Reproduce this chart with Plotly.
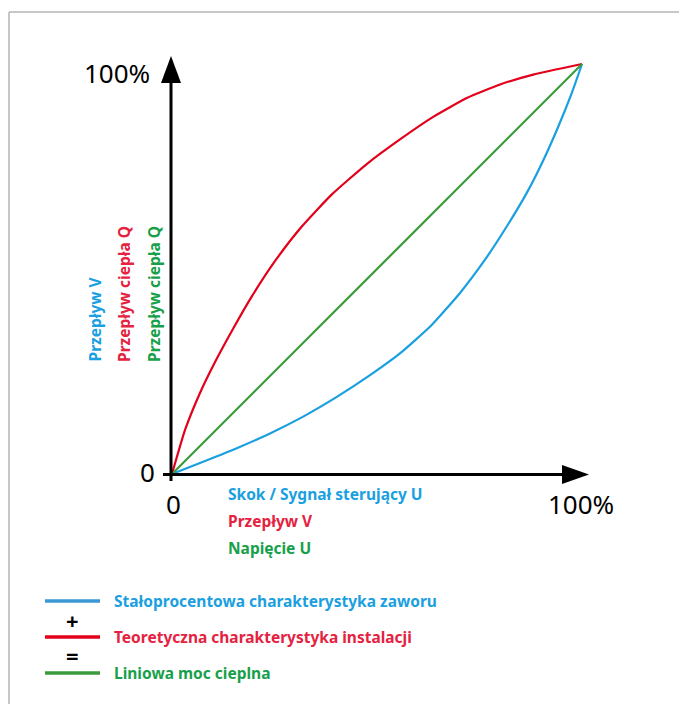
import plotly.graph_objects as go

# ---- data (percent of stroke / signal) ----
x_valve = [0, 7.6, 15.8, 23.9, 32.0, 40.2, 48.3, 55.6, 62.9, 70.2, 76.3, 81.6, 86.5, 90.6, 94.2, 97.5, 100]
y_valve = [0, 3.0, 6.3, 9.9, 14.0, 18.8, 24.1, 29.4, 35.9, 44.1, 52.2, 60.3, 68.5, 76.6, 84.7, 92.9, 100]

x_install = [0, 3.2, 6.8, 10.5, 15.0, 19.4, 25.1, 31.6, 39.0, 47.5, 55.6, 63.7, 71.9, 80.0, 88.1, 100]
y_install = [0, 10.8, 19.7, 27.3, 35.6, 43.2, 51.9, 60.3, 68.2, 75.6, 81.6, 87.1, 91.7, 95.0, 97.4, 100]

x_linear = [0, 100]
y_linear = [0, 100]

legend_labels = ["Stałoprocentowa charakterystyka zaworu",
                 "Teoretyczna charakterystyka instalacji",
                 "Liniowa moc cieplna"]
x_labels = ["Skok / Sygnał sterujący U", "Przepływ V", "Napięcie U"]
y_labels = ["Przepływ V", "Przepływ ciepła Q", "Przepływ ciepła Q"]

BLUE_L, RED_L, GREEN_L = "#1a9fe0", "#e2001a", "#3b9a3b"
BLUE_T, RED_T, GREEN_T = "#1aa0e0", "#e5223f", "#17a04a"

W, H = 679, 704
OX, OY, S = 172, 474, 4.1  # origin pixel and pixels per percent


def X(px):
    return (px - OX) / S


def Y(py):
    return (OY - py) / S


fig = go.Figure()
for xs, ys, c in [(x_valve, y_valve, BLUE_L), (x_install, y_install, RED_L),
                  (x_linear, y_linear, GREEN_L)]:
    fig.add_trace(go.Scatter(x=xs, y=ys, mode="lines",
                             line=dict(color=c, width=2.2, shape="spline", smoothing=0.5),
                             hoverinfo="skip", showlegend=False))

shapes = []
# frame
shapes.append(dict(type="line", xref="paper", yref="paper", x0=9 / W, y0=1 - 12 / H, x1=1, y1=1 - 12 / H,
                   line=dict(color="#b4b4b4", width=1.5)))
shapes.append(dict(type="line", xref="paper", yref="paper", x0=9 / W, y0=1 - 12 / H, x1=9 / W, y1=0,
                   line=dict(color="#b4b4b4", width=1.5)))
# axes
shapes.append(dict(type="line", x0=X(171), y0=Y(481), x1=X(171), y1=Y(80), line=dict(color="black", width=3)))
shapes.append(dict(type="line", x0=X(163), y0=Y(474.5), x1=X(565), y1=Y(474.5), line=dict(color="black", width=3)))
shapes.append(dict(type="path", path=f"M {X(161)} {Y(83)} L {X(171)} {Y(56)} L {X(181)} {Y(83)} Z",
                   fillcolor="black", line=dict(color="black", width=0)))
shapes.append(dict(type="path", path=f"M {X(562)} {Y(465)} L {X(589)} {Y(474.5)} L {X(562)} {Y(484)} Z",
                   fillcolor="black", line=dict(color="black", width=0)))
# legend lines
for py, c in [(601, "#3a98d4"), (637, RED_L), (673, GREEN_L)]:
    shapes.append(dict(type="line", x0=X(45), y0=Y(py), x1=X(100), y1=Y(py), line=dict(color=c, width=3.5)))

ann = []
num_font = dict(family="Noto Sans", size=26, color="black")
ann.append(dict(x=X(117), y=Y(73), text="100%", font=num_font))
ann.append(dict(x=X(147), y=Y(472), text="0", font=num_font))
ann.append(dict(x=X(173), y=Y(504), text="0", font=num_font))
ann.append(dict(x=X(581), y=Y(504), text="100%", font=num_font))

lab_font = "Noto Sans"
LS = 15.5
for i, (t, c) in enumerate(zip(x_labels, [BLUE_T, RED_T, GREEN_T])):
    ann.append(dict(x=X(226), y=Y(494 + 27 * i), text=f"<b>{t}</b>", xanchor="left",
                    font=dict(family=lab_font, size=LS, color=c)))
for i, (t, c) in enumerate(zip(y_labels, [BLUE_T, RED_T, GREEN_T])):
    ann.append(dict(x=X(94 + 30 * i), y=Y(364), text=f"<b>{t}</b>", textangle=-90, yanchor="bottom",
                    font=dict(family=lab_font, size=LS, color=c)))
for i, (t, c) in enumerate(zip(legend_labels, [BLUE_T, RED_T, GREEN_T])):
    ann.append(dict(x=X(112), y=Y(601 + 36 * i), text=f"<b>{t}</b>", xanchor="left",
                    font=dict(family=lab_font, size=LS, color=c)))
ann.append(dict(x=X(72), y=Y(620), text="<b>+</b>", font=dict(family=lab_font, size=22, color="black")))
ann.append(dict(x=X(72), y=Y(655), text="<b>=</b>", font=dict(family=lab_font, size=22, color="black")))
for a in ann:
    a.setdefault("showarrow", False)

fig.update_layout(
    width=W, height=H, margin=dict(l=0, r=0, t=0, b=0),
    paper_bgcolor="white", plot_bgcolor="white",
    xaxis=dict(range=[X(0), X(W)], visible=False, fixedrange=True),
    yaxis=dict(range=[Y(H), Y(0)], visible=False, fixedrange=True),
    shapes=shapes, annotations=ann, showlegend=False,
)
fig.write_html("out.html", config={"displayModeBar": False},
               post_script="document.body.style.margin='0';")
